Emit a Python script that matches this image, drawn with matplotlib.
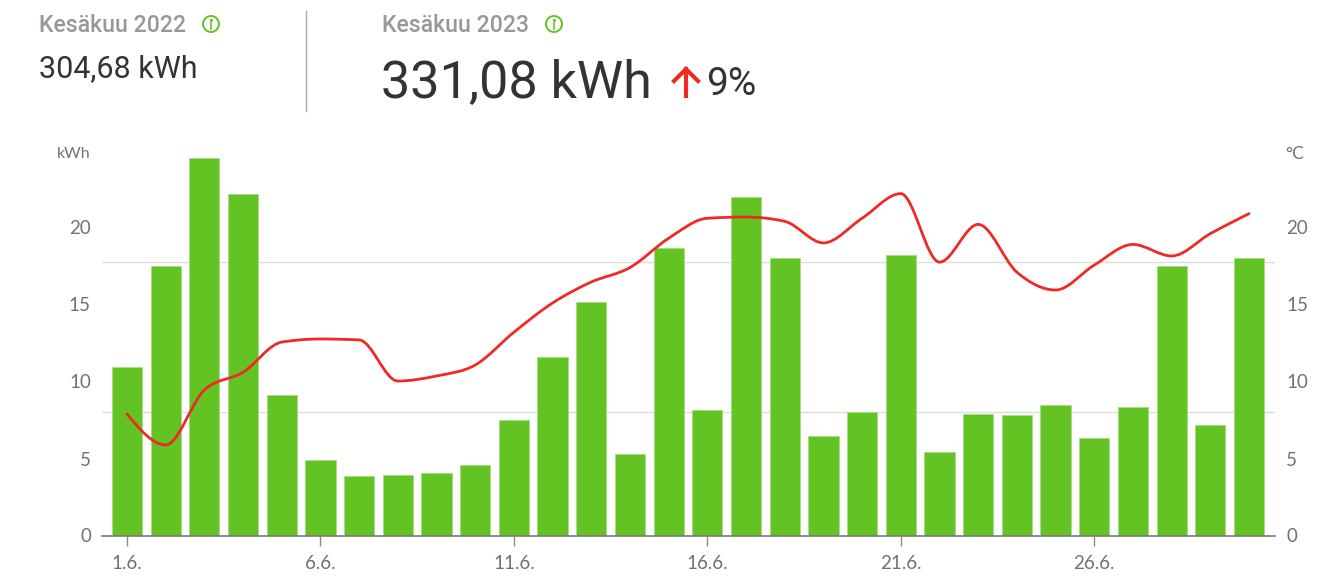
import matplotlib
matplotlib.use("Agg")
import matplotlib.pyplot as plt
import numpy as np
from matplotlib.lines import Line2D
from matplotlib.patches import Circle, PathPatch
from matplotlib.path import Path

W, H = 1336, 580

days = list(range(1, 31))
energy_kwh = [10.94, 17.5, 24.5, 22.2, 9.12, 4.9, 3.86, 3.93, 4.06, 4.58,
              7.5, 11.6, 15.16, 5.3, 18.64, 8.18, 22.0, 18.0, 6.46, 8.02,
              18.2, 5.42, 7.86, 7.82, 8.47, 6.33, 8.34, 17.47, 7.18, 18.05]
temp_c = [7.89, 5.88, 9.45, 10.6, 12.56, 12.76, 12.7, 10.03, 10.36, 11.07,
          13.2, 15.1, 16.46, 17.4, 19.3, 20.6, 20.68, 20.4, 19.0, 20.6,
          22.2, 17.75, 20.2, 17.1, 15.94, 17.56, 18.9, 18.15, 19.6, 20.9]
y_ticks = [0, 5, 10, 15, 20]
grid_values = [8.0, 17.75]
x_tick_days = [1, 6, 11, 16, 21, 26]
x_tick_labels = ["1.6.", "6.6.", "11.6.", "16.6.", "21.6.", "26.6."]

GREEN = "#62c322"
RED = "#ee2a24"
TICK = "#6e7278"
HEAD_GREY = "#9b9793"
DARK = "#333333"

plt.rcParams["font.family"] = ["Roboto", "DejaVu Sans"]


def fx(px):
    return px / W


def fy(py):
    return 1 - py / H


def smooth_path(xs, ys):
    # monotone cubic through the points, as bezier segments
    xs = np.array(xs, dtype=float)
    ys = np.array(ys, dtype=float)
    h = np.diff(xs)
    s = np.diff(ys) / h
    t = np.zeros(len(xs))
    for i in range(1, len(xs) - 1):
        p = (s[i - 1] * h[i] + s[i] * h[i - 1]) / (h[i - 1] + h[i])
        t[i] = (np.sign(s[i - 1]) + np.sign(s[i])) * min(abs(s[i - 1]), abs(s[i]), 0.5 * abs(p))
    t[0] = (3 * s[0] - t[1]) / 2
    t[-1] = (3 * s[-1] - t[-2]) / 2
    verts = [(xs[0], ys[0])]
    codes = [Path.MOVETO]
    for i in range(len(xs) - 1):
        d = h[i] / 3
        verts += [(xs[i] + d, ys[i] + d * t[i]),
                  (xs[i + 1] - d, ys[i + 1] - d * t[i + 1]),
                  (xs[i + 1], ys[i + 1])]
        codes += [Path.CURVE4] * 3
    return Path(verts, codes)


fig = plt.figure(figsize=(W / 100, H / 100), dpi=100)

ax_px = fig.add_axes([0, 0, 1, 1], zorder=-1)
ax_px.set_xlim(0, W)
ax_px.set_ylim(H, 0)
ax_px.axis("off")


def info_icon(cx, cy):
    ax_px.add_patch(Circle((cx, cy), 8, fill=False, ec=GREEN, lw=1.4))
    ax_px.plot([cx, cx], [cy - 1.5, cy + 4.5], color=GREEN, lw=1.2)
    ax_px.plot([cx], [cy - 4], ".", color=GREEN, ms=2.5)


ax = fig.add_axes([fx(102), fy(535.5), fx(1275 - 102), (535.5 - 140) / H])
ax.set_xlim(1 - 25 / 38.7, 30 + 26 / 38.7)
ax.set_ylim(0, (535.5 - 140) / 15.4)

for v in grid_values:
    ax.axhline(v, color="#dcdcdc", lw=1, zorder=1)
ax.bar(days, energy_kwh, width=0.78, color=GREEN, edgecolor="#a9dc88",
       linewidth=0.7, zorder=2)
ax.add_patch(PathPatch(smooth_path(days, temp_c), fill=False, ec=RED, lw=2,
                       capstyle="round", zorder=3))

for side in ["top", "left", "right"]:
    ax.spines[side].set_visible(False)
ax.spines["bottom"].set_color("#7a7a7a")
ax.spines["bottom"].set_linewidth(1.2)
ax.set_xticks(x_tick_days, x_tick_labels)
ax.set_yticks(y_ticks)
ax.tick_params(axis="x", length=7, width=1, color="#8a8a8a", pad=7,
               labelcolor=TICK, labelsize=13.5)
ax.tick_params(axis="y", length=0, pad=8, labelcolor=TICK, labelsize=13.5)
for lab in ax.get_xticklabels() + ax.get_yticklabels():
    lab.set_family(["Lato", "DejaVu Sans"])
for lab in ax.get_yticklabels():
    lab.set_verticalalignment("center_baseline")

ax2 = ax.twinx()
ax2.set_ylim(ax.get_ylim())
ax2.set_yticks(y_ticks)
ax2.tick_params(axis="y", length=0, pad=8, labelcolor=TICK, labelsize=13.5)
for lab in ax2.get_yticklabels():
    lab.set_family(["Lato", "DejaVu Sans"])
    lab.set_verticalalignment("center_baseline")
for side in ["top", "left", "right", "bottom"]:
    ax2.spines[side].set_visible(False)

fig.text(fx(91), fy(154), "kWh", ha="right", va="center", color=TICK,
         fontsize=11.5, family=["Lato", "DejaVu Sans"])
fig.text(fx(1285), fy(154), "°C", ha="left", va="center", color=TICK,
         fontsize=12.5, family=["Lato", "DejaVu Sans"])

# header
fig.text(fx(39), fy(25.5), "Kesäkuu 2022", ha="left", va="center",
         color=HEAD_GREY, fontsize=16.6, fontweight="medium")
fig.text(fx(382), fy(25.5), "Kesäkuu 2023", ha="left", va="center",
         color=HEAD_GREY, fontsize=16.6, fontweight="medium")
fig.text(fx(39), fy(69), "304,68 kWh", ha="left", va="center",
         color=DARK, fontsize=22)
fig.text(fx(381), fy(83), "331,08 kWh", ha="left", va="center",
         color=DARK, fontsize=37.5)
fig.text(fx(706), fy(84), "9%", ha="left", va="center", color=DARK,
         fontsize=28)
fig.add_artist(Line2D([fx(305.5), fx(305.5)], [fy(11), fy(111)],
                      color="#a8a8a8", lw=1))
info_icon(211, 24)
info_icon(554, 24)
fig.add_artist(Line2D([fx(686), fx(686)], [fy(69), fy(96)], color=RED, lw=3))
fig.add_artist(Line2D([fx(674), fx(686), fx(698)], [fy(81), fy(69), fy(81)],
                      color=RED, lw=3, solid_joinstyle="miter"))

fig.savefig("out.png", dpi=100)
